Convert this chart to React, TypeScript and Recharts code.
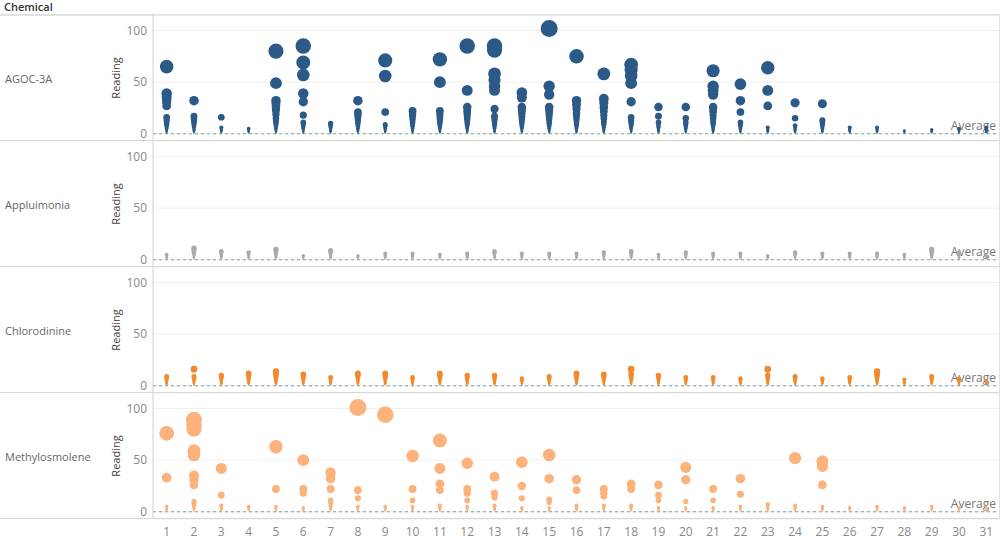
import React from 'react';
import {
  ScatterChart, Scatter, XAxis, YAxis, ZAxis, CartesianGrid, ReferenceLine
} from 'recharts';

const days = [1, 2, 3, 4, 5, 6, 7, 8, 9, 10, 11, 12, 13, 14, 15, 16, 17, 18, 19, 20, 21, 22, 23, 24, 25, 26, 27, 28, 29, 30, 31];
const yTicks = [0, 50, 100];

// readings per day (index 0 = day 1)
const agocReadings: number[][] = [
  [65, 39, 35, 31, 27, 16, 13, 11, 9, 7, 5, 3, 2, 1],
  [32, 17, 14, 12, 10, 8, 6, 4, 3, 2, 1],
  [16, 6, 4, 3, 2, 1],
  [5, 3, 2, 1],
  [80, 49, 32, 29, 26, 23, 19, 15, 13, 11, 9, 7, 5, 3, 2, 1],
  [85, 69, 57, 39, 31, 18, 11, 9, 7, 5, 3, 2, 1],
  [10, 8, 6, 4, 3, 2, 1],
  [32, 21, 19, 17, 15, 13, 11, 9, 7, 5, 3, 2, 1],
  [71, 56, 21, 9, 7, 5, 3, 2, 1],
  [22, 19, 17, 14, 11, 9, 7, 5, 3, 2, 1],
  [72, 50, 22, 18, 15, 13, 11, 9, 7, 5, 3, 2, 1],
  [85, 42, 26, 22, 19, 16, 14, 11, 9, 7, 5, 3, 2, 1],
  [85, 81, 58, 52, 46, 42, 24, 17, 14, 11, 9, 7, 5, 3, 2, 1],
  [40, 35, 26, 23, 20, 17, 14, 11, 9, 7, 5, 3, 2, 1],
  [102, 46, 38, 26, 23, 20, 17, 14, 11, 9, 7, 5, 3, 2, 1],
  [75, 32, 28, 24, 20, 17, 14, 11, 9, 7, 5, 3, 2, 1],
  [58, 34, 30, 26, 22, 18, 15, 12, 10, 8, 6, 4, 3, 2, 1],
  [67, 62, 56, 49, 31, 16, 13, 11, 9, 7, 5, 3, 2, 1],
  [26, 17, 11, 8, 6, 4, 3, 2, 1],
  [26, 15, 11, 9, 7, 5, 3, 2, 1],
  [61, 46, 42, 38, 26, 22, 18, 15, 12, 10, 8, 6, 4, 3, 2, 1],
  [48, 32, 21, 11, 9, 7, 5, 3, 2, 1],
  [64, 42, 27, 6, 4, 3, 2, 1],
  [30, 15, 8, 6, 4, 3, 2, 1],
  [29, 13, 11, 9, 7, 5, 3, 2, 1],
  [6, 4, 3, 2, 1],
  [6, 4, 3, 2, 1],
  [3, 2, 1],
  [4, 3, 2, 1],
  [5, 3, 2, 1],
  [6, 4, 3, 2, 1],
];

const appluimoniaReadings: number[][] = [
  [5, 3, 2, 1], [11, 9, 7, 5, 3, 2, 1], [8, 6, 4, 3, 2, 1], [7, 5, 3, 2, 1], [10, 8, 6, 4, 3, 2, 1],
  [4, 3, 2, 1], [9, 7, 5, 3, 2, 1], [4, 3, 2, 1], [6, 4, 3, 2, 1], [6, 4, 3, 2, 1],
  [5, 3, 2, 1], [6, 4, 3, 2, 1], [8, 6, 4, 3, 2, 1], [6, 4, 3, 2, 1], [6, 4, 3, 2, 1],
  [6, 4, 3, 2, 1], [7, 5, 3, 2, 1], [8, 6, 4, 3, 2, 1], [5, 3, 2, 1], [7, 5, 3, 2, 1],
  [6, 4, 3, 2, 1], [6, 4, 3, 2, 1], [4, 3, 2, 1], [7, 5, 3, 2, 1], [6, 4, 3, 2, 1],
  [6, 4, 3, 2, 1], [6, 4, 3, 2, 1], [5, 3, 2, 1], [10, 8, 6, 4, 3, 2, 1], [7, 5, 3, 2, 1],
  [4, 3, 2, 1],
];

const chlorodinineReadings: number[][] = [
  [9, 7, 5, 3, 2, 1], [16, 9, 7, 5, 3, 2, 1], [10, 8, 6, 4, 3, 2, 1], [12, 10, 8, 6, 4, 3, 2, 1], [14, 12, 10, 8, 6, 4, 3, 2, 1],
  [11, 9, 7, 5, 3, 2, 1], [8, 6, 4, 3, 2, 1], [12, 10, 8, 6, 4, 3, 2, 1], [12, 10, 8, 6, 4, 3, 2, 1], [8, 6, 4, 3, 2, 1],
  [12, 10, 8, 6, 4, 3, 2, 1], [10, 8, 6, 4, 3, 2, 1], [10, 8, 6, 4, 3, 2, 1], [7, 5, 3, 2, 1], [9, 7, 5, 3, 2, 1],
  [12, 10, 8, 6, 4, 3, 2, 1], [11, 9, 7, 5, 3, 2, 1], [16, 11, 9, 7, 5, 3, 2, 1], [10, 8, 6, 4, 3, 2, 1], [8, 6, 4, 3, 2, 1],
  [8, 6, 4, 3, 2, 1], [7, 5, 3, 2, 1], [16, 10, 8, 6, 4, 3, 2, 1], [9, 7, 5, 3, 2, 1], [7, 5, 3, 2, 1],
  [8, 6, 4, 3, 2, 1], [14, 12, 10, 8, 6, 4, 3, 2, 1], [6, 4, 3, 2, 1], [9, 7, 5, 3, 2, 1], [7, 5, 3, 2, 1],
  [5, 3, 2, 1],
];

const methylosmoleneReadings: number[][] = [
  [76, 33, 5, 3, 2, 1],
  [89, 84, 80, 59, 55, 35, 31, 26, 10, 8, 6, 4, 3, 2, 1],
  [42, 16, 6, 4, 3, 2, 1],
  [5, 3, 2, 1],
  [63, 22, 5, 3, 2, 1],
  [50, 22, 18, 4, 3, 2, 1],
  [38, 32, 22, 11, 8, 6, 4, 3, 2, 1],
  [101, 21, 13, 5, 3, 2, 1],
  [94, 5, 3, 2, 1],
  [54, 22, 11, 5, 3, 2, 1],
  [69, 42, 27, 21, 6, 4, 3, 2, 1],
  [47, 22, 18, 11, 5, 3, 2, 1],
  [34, 18, 14, 6, 4, 3, 2, 1],
  [48, 25, 13, 4, 3, 2, 1],
  [55, 32, 12, 9, 4, 3, 2, 1],
  [31, 21, 6, 4, 3, 2, 1],
  [22, 18, 15, 6, 4, 3, 2, 1],
  [27, 22, 6, 4, 3, 2, 1],
  [26, 16, 11, 4, 3, 2, 1],
  [43, 31, 10, 4, 3, 2, 1],
  [22, 11, 4, 3, 2, 1],
  [32, 17, 5, 3, 2, 1],
  [7, 5, 3, 2, 1],
  [52, 6, 4, 3, 2, 1],
  [49, 44, 26, 5, 3, 2, 1],
  [4, 3, 2, 1],
  [5, 3, 2, 1],
  [4, 3, 2, 1],
  [5, 3, 2, 1],
  [4, 3, 2, 1],
  [4, 3, 2, 1],
];

const chemicals = ['AGOC-3A', 'Appluimonia', 'Chlorodinine', 'Methylosmolene'];
const colors = ['#2c5a88', '#aba9a9', '#f08a2b', '#fbb27b'];
const allReadings = [agocReadings, appluimoniaReadings, chlorodinineReadings, methylosmoleneReadings];

const ROW_TOP = 15;
const ROW_H = 126;
const FONT = '"Open Sans", sans-serif';

const toPoints = (readings: number[][]) =>
  days.flatMap((d, i) => readings[i].map((r) => ({ day: d, reading: r })));

const AverageLabel = (props: any) => {
  const { viewBox } = props;
  if (!viewBox) return null;
  const right = viewBox.x + viewBox.width - 4;
  const y = viewBox.y;
  return (
    <g>
      <rect x={right - 46} y={y - 14} width={48} height={13} fill="#fff" fillOpacity={0.65} />
      <text x={right} y={y - 4} textAnchor="end" fontSize={12} fill="#777" fontFamily={FONT}>Average</text>
    </g>
  );
};

const PanelRow = ({ index }: { index: number }) => {
  const last = index === chemicals.length - 1;
  const top = ROW_TOP + index * ROW_H;
  const data = toPoints(allReadings[index]);
  return (
    <div style={{ position: 'absolute', left: 0, top, width: 1000, height: last ? ROW_H + 20 : ROW_H }}>
      <div style={{
        position: 'absolute', left: 5, top: 0, height: ROW_H, display: 'flex',
        alignItems: 'center', fontSize: 11, color: '#666'
      }}>
        {chemicals[index]}
      </div>
      <div style={{ position: 'absolute', left: 100, top: 0 }}>
        <ScatterChart width={900} height={last ? ROW_H + 20 : ROW_H} margin={{ top: 0, right: 0, bottom: 0, left: 0 }}>
          <CartesianGrid vertical={false} stroke="#efefef" />
          <XAxis
            dataKey="day" type="number" domain={[0.5, 31.5]} ticks={days} interval={0}
            hide={!last} height={20} axisLine={false} tickLine={false}
            tick={{ fontSize: 12, fill: '#888', fontFamily: FONT }}
          />
          <YAxis
            dataKey="reading" type="number" domain={[-7, 115]} ticks={yTicks} width={53} interval={0}
            axisLine={{ stroke: '#cfcfcf' }} tickLine={false} tickSize={4} tickMargin={2}
            tick={{ fontSize: 12, fill: '#888', fontFamily: FONT }}
            label={{
              value: 'Reading', angle: -90, position: 'insideLeft', offset: 16,
              style: { textAnchor: 'middle', fontSize: 11, fill: '#444', fontFamily: FONT }
            }}
          />
          <ZAxis dataKey="reading" type="number" domain={[0, 100]} range={[0, 227]} />
          <Scatter data={data} fill={colors[index]} isAnimationActive={false} />
          <ReferenceLine y={0} stroke="#7aa29e" strokeDasharray="3 3" label={<AverageLabel />} />
        </ScatterChart>
      </div>
    </div>
  );
};

export default function App() {
  return (
    <div style={{
      position: 'absolute', left: 0, top: 0, width: 1000, height: 539,
      background: '#fff', fontFamily: FONT, overflow: 'hidden'
    }}>
      <div style={{ position: 'absolute', left: 4, top: 0, fontSize: 11, fontWeight: 600, color: '#333', lineHeight: '14px' }}>
        Chemical
      </div>
      <div style={{ position: 'absolute', left: 0, top: 14, width: 1000, height: 2, background: '#e2e2e2' }} />
      {chemicals.map((c, i) => <PanelRow key={c} index={i} />)}
      {[1, 2, 3, 4].map((k) => (
        <div key={k} style={{ position: 'absolute', left: 0, top: ROW_TOP + k * ROW_H - 1, width: 1000, height: 1, background: '#d6d6d6' }} />
      ))}
      <div style={{ position: 'absolute', left: 999, top: 15, width: 1, height: 4 * ROW_H, background: '#e2e2e2' }} />
    </div>
  );
}
